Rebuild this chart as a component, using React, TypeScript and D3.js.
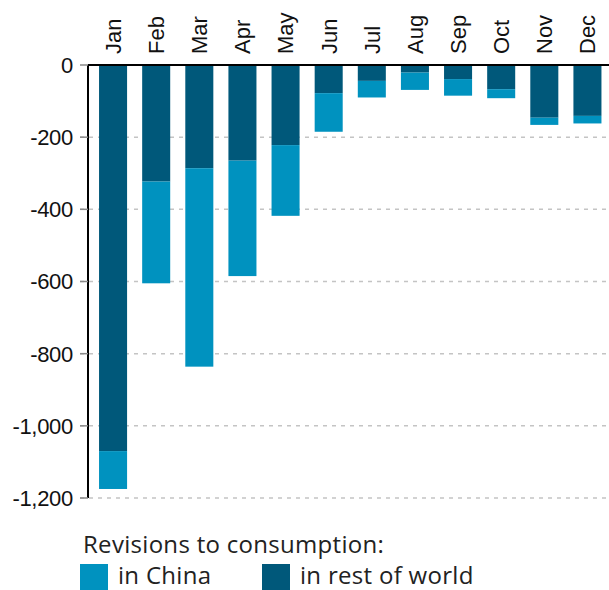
import React from "react";
import * as d3 from "d3";

const months = ["Jan", "Feb", "Mar", "Apr", "May", "Jun", "Jul", "Aug", "Sep", "Oct", "Nov", "Dec"];
const restOfWorld = [-1070, -323, -286, -265, -222, -78, -44, -21, -39, -67, -146, -141];
const china = [-105, -282, -550, -320, -196, -107, -46, -48, -46, -25, -20, -21];
const yTicks = [0, -200, -400, -600, -800, -1000, -1200];

const W = 609;
const H = 590;
const DARK = "#00587a";
const LIGHT = "#0092bf";

export default function App() {
  const x = d3.scaleBand<string>().domain(months).range([91.5, 609]).paddingInner(0.35).paddingOuter(0.175);
  const y = d3.scaleLinear().domain([-1200, 0]).range([498, 65]);
  const fmt = (v: number) => d3.format(",")(v).replace("\u2212", "-");
  const axisFont = "'Liberation Sans', Arial, sans-serif";
  const legendFont = "'Open Sans', sans-serif";

  return (
    <svg width={W} height={H} style={{ position: "absolute", left: 0, top: 0, background: "#fff" }}>
      {yTicks.filter((t) => t !== 0).map((t) => (
        <line key={"g" + t} x1={80} x2={W} y1={y(t)} y2={y(t)} stroke="#c4c4c4" strokeWidth={1.5} strokeDasharray="4,5" />
      ))}
      {months.map((m, i) => {
        const r = restOfWorld[i];
        const c = china[i];
        return (
          <g key={m}>
            <rect x={x(m)} width={x.bandwidth()} y={y(0)} height={y(r) - y(0)} fill={DARK} />
            <rect x={x(m)} width={x.bandwidth()} y={y(r)} height={y(r + c) - y(r)} fill={LIGHT} />
          </g>
        );
      })}
      <line x1={88} x2={W} y1={y(0)} y2={y(0)} stroke="#000" strokeWidth={2} />
      <line x1={88} x2={88} y1={y(0)} y2={y(-1200)} stroke="#000" strokeWidth={2} />
      {yTicks.map((t) => (
        <g key={"t" + t}>
          <line x1={80} x2={88} y1={y(t)} y2={y(t)} stroke="#888" strokeWidth={1.5} />
          <text x={73} y={y(t)} dy="0.36em" textAnchor="end" fontFamily={axisFont} fontSize={22} fill="#111" letterSpacing={-0.3}>
            {fmt(t)}
          </text>
        </g>
      ))}
      {months.map((m) => (
        <text
          key={"m" + m}
          transform={`translate(${(x(m) as number) + x.bandwidth() / 2},54) rotate(-90)`}
          dy="0.36em"
          textAnchor="start"
          fontFamily={axisFont}
          fontSize={22}
          fill="#111"
        >
          {m}
        </text>
      ))}
      <text x={83} y={553} fontFamily={legendFont} fontSize={24} fill="#222" letterSpacing={0.3}>
        Revisions to consumption:
      </text>
      <rect x={80} y={564} width={28} height={26} fill={LIGHT} />
      <text x={118} y={584} fontFamily={legendFont} fontSize={24} fill="#222" letterSpacing={0.3}>in China</text>
      <rect x={262} y={564} width={28} height={26} fill={DARK} />
      <text x={300} y={584} fontFamily={legendFont} fontSize={24} fill="#222" letterSpacing={0.3}>in rest of world</text>
    </svg>
  );
}
